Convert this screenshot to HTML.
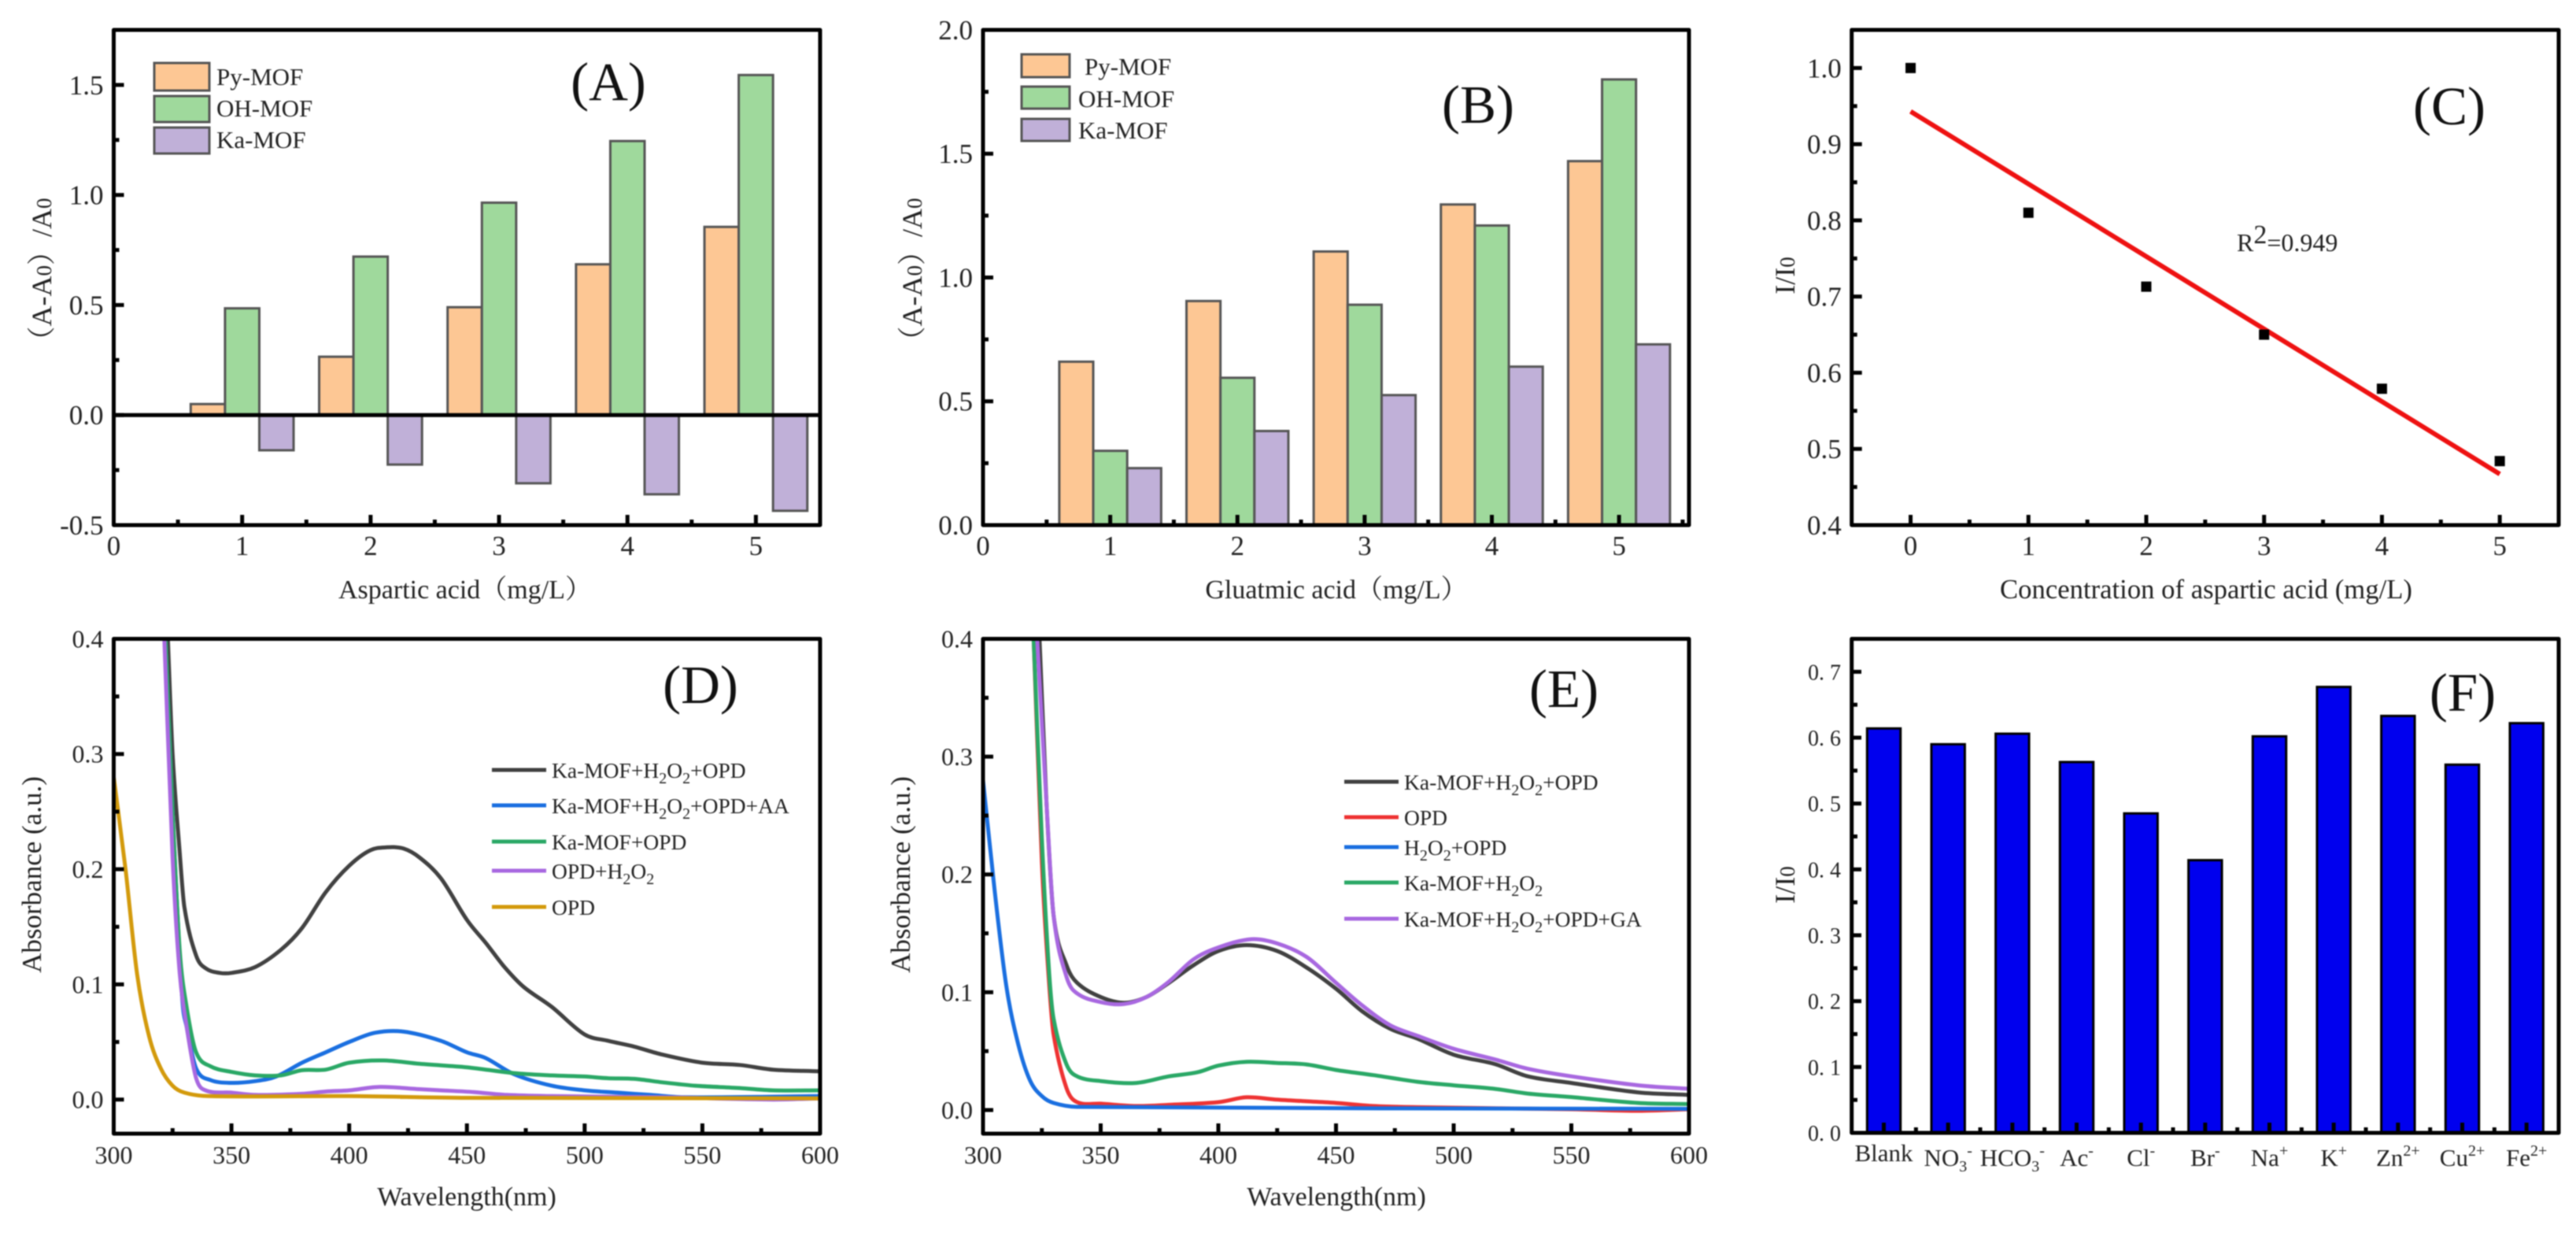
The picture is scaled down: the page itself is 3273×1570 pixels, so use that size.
<!DOCTYPE html>
<html lang="en">
<head>
<meta charset="utf-8">
<title>MOF absorbance and selectivity panels</title>
<style>
html,body{margin:0;padding:0;background:#fff;}
svg{display:block;filter:blur(0.7px);}
text{font-family:"Liberation Serif","Noto Serif CJK SC",serif;fill:#222;}
.frame{fill:none;stroke:#000;stroke-width:5;stroke-linejoin:round;}
.title{font-size:34px;}
.panel{font-size:69px;fill:#111;text-anchor:middle;}
.leg{font-size:31px;}
.leg2{font-size:27.5px;}
.sw{stroke:#555;stroke-width:3;}
.mid{text-anchor:middle;}
</style>
</head>
<body>
<svg id="fig" xmlns="http://www.w3.org/2000/svg" width="3273" height="1570" viewBox="0 0 3273 1570">
<rect x="0" y="0" width="3273" height="1570" fill="#fff"/>

<g id="a">
  <g id="a-marks"></g>
  <rect class="frame" x="144.5" y="38" width="897.5" height="629"/>
  <g id="a-axes"></g>
  <rect class="sw" x="196" y="80" width="70" height="35" fill="#fdc794"/>
  <rect class="sw" x="196" y="122" width="70" height="33" fill="#9fd99c"/>
  <rect class="sw" x="196" y="162" width="70" height="33" fill="#c0b0d8"/>
  <text class="leg" x="275" y="108">Py-MOF</text>
  <text class="leg" x="275" y="148">OH-MOF</text>
  <text class="leg" x="275" y="188">Ka-MOF</text>
  <text class="panel" x="773" y="127">(A)</text>
  <text class="title mid" x="591" y="760">Aspartic acid（mg/L）</text>
  <text class="mid" font-size="36" transform="translate(65,351) rotate(-90)">（A-A<tspan font-size="27">0</tspan>）/A<tspan font-size="27">0</tspan></text>
</g>

<g id="b">
  <g id="b-marks"></g>
  <rect class="frame" x="1249" y="38" width="897" height="629"/>
  <g id="b-axes"></g>
  <rect class="sw" x="1298" y="69" width="61" height="29" fill="#fdc794"/>
  <rect class="sw" x="1298" y="110" width="61" height="28" fill="#9fd99c"/>
  <rect class="sw" x="1298" y="151" width="61" height="28" fill="#c0b0d8"/>
  <text class="leg" x="1378" y="95">Py-MOF</text>
  <text class="leg" x="1370" y="136">OH-MOF</text>
  <text class="leg" x="1370" y="176">Ka-MOF</text>
  <text class="panel" x="1878" y="156">(B)</text>
  <text class="title mid" x="1698" y="760">Gluatmic acid（mg/L）</text>
  <text class="mid" font-size="36" transform="translate(1171,351) rotate(-90)">（A-A<tspan font-size="27">0</tspan>）/A<tspan font-size="27">0</tspan></text>
</g>

<g id="c">
  <g id="c-marks"></g>
  <rect class="frame" x="2352.7" y="38" width="898.3" height="629"/>
  <g id="c-axes"></g>
  <text class="panel" x="3112" y="158">(C)</text>
  <text x="2842" y="319" font-size="32">R<tspan dy="-10" font-size="34">2</tspan><tspan dy="10">=0.949</tspan></text>
  <text class="mid" font-size="34.7" x="2803" y="760">Concentration of aspartic acid (mg/L)</text>
  <text class="mid" font-size="36" transform="translate(2280,350) rotate(-90)">I/I<tspan font-size="27">0</tspan></text>
</g>

<g id="d">
  <g id="d-marks"></g>
  <rect class="frame" x="144.5" y="811.5" width="897.5" height="628.5"/>
  <g id="d-axes"></g>
  <line x1="625" x2="694" y1="978" y2="978" stroke="#414141" stroke-width="5"/>
  <line x1="625" x2="694" y1="1023" y2="1023" stroke="#1a6fe0" stroke-width="5"/>
  <line x1="625" x2="694" y1="1069" y2="1069" stroke="#2aa866" stroke-width="5"/>
  <line x1="625" x2="694" y1="1106" y2="1106" stroke="#a868e0" stroke-width="5"/>
  <line x1="625" x2="694" y1="1152" y2="1152" stroke="#d39a0c" stroke-width="5"/>
  <text class="leg2" x="701" y="988">Ka-MOF+H<tspan dy="7" font-size="20">2</tspan><tspan dy="-7">O</tspan><tspan dy="7" font-size="20">2</tspan><tspan dy="-7">+OPD</tspan></text>
  <text class="leg2" x="701" y="1033">Ka-MOF+H<tspan dy="7" font-size="20">2</tspan><tspan dy="-7">O</tspan><tspan dy="7" font-size="20">2</tspan><tspan dy="-7">+OPD+AA</tspan></text>
  <text class="leg2" x="701" y="1079">Ka-MOF+OPD</text>
  <text class="leg2" x="701" y="1116">OPD+H<tspan dy="7" font-size="20">2</tspan><tspan dy="-7">O</tspan><tspan dy="7" font-size="20">2</tspan></text>
  <text class="leg2" x="701" y="1162">OPD</text>
  <text class="panel" x="890" y="893">(D)</text>
  <text class="mid" font-size="34" x="593" y="1531">Wavelength(nm)</text>
  <text class="mid" font-size="35" transform="translate(52,1111) rotate(-90)">Absorbance (a.u.)</text>
</g>

<g id="e">
  <g id="e-marks"></g>
  <rect class="frame" x="1249" y="811.5" width="897" height="628.5"/>
  <g id="e-axes"></g>
  <line x1="1708" x2="1777" y1="993" y2="993" stroke="#414141" stroke-width="5"/>
  <line x1="1708" x2="1777" y1="1038" y2="1038" stroke="#ee3333" stroke-width="5"/>
  <line x1="1708" x2="1777" y1="1076" y2="1076" stroke="#1a6fe0" stroke-width="5"/>
  <line x1="1708" x2="1777" y1="1121" y2="1121" stroke="#2aa866" stroke-width="5"/>
  <line x1="1708" x2="1777" y1="1167" y2="1167" stroke="#a868e0" stroke-width="5"/>
  <text class="leg2" x="1784" y="1003">Ka-MOF+H<tspan dy="7" font-size="20">2</tspan><tspan dy="-7">O</tspan><tspan dy="7" font-size="20">2</tspan><tspan dy="-7">+OPD</tspan></text>
  <text class="leg2" x="1784" y="1048">OPD</text>
  <text class="leg2" x="1784" y="1086">H<tspan dy="7" font-size="20">2</tspan><tspan dy="-7">O</tspan><tspan dy="7" font-size="20">2</tspan><tspan dy="-7">+OPD</tspan></text>
  <text class="leg2" x="1784" y="1131">Ka-MOF+H<tspan dy="7" font-size="20">2</tspan><tspan dy="-7">O</tspan><tspan dy="7" font-size="20">2</tspan></text>
  <text class="leg2" x="1784" y="1177">Ka-MOF+H<tspan dy="7" font-size="20">2</tspan><tspan dy="-7">O</tspan><tspan dy="7" font-size="20">2</tspan><tspan dy="-7">+OPD+GA</tspan></text>
  <text class="panel" x="1987" y="898">(E)</text>
  <text class="mid" font-size="34" x="1698" y="1531">Wavelength(nm)</text>
  <text class="mid" font-size="35" transform="translate(1156,1111) rotate(-90)">Absorbance (a.u.)</text>
</g>

<g id="f">
  <g id="f-marks"></g>
  <rect class="frame" x="2352.7" y="811.5" width="898.3" height="627.5"/>
  <g id="f-axes"></g>
  <text class="panel" x="3129" y="903">(F)</text>
  <text class="mid" font-size="36" transform="translate(2280,1124) rotate(-90)">I/I<tspan font-size="27">0</tspan></text>
</g>
</svg>

<script>
// ---- Panel A data ----
const aConcentrations = [1, 2, 3, 4, 5];
const aPyMof = [0.05, 0.265, 0.49, 0.685, 0.855];
const aOhMof = [0.485, 0.72, 0.965, 1.245, 1.545];
const aKaMof = [-0.16, -0.225, -0.31, -0.36, -0.435];
const aXTicks = [0, 1, 2, 3, 4, 5];
const aYTicks = ['-0.5', '0.0', '0.5', '1.0', '1.5'];

// ---- Panel B data ----
const bConcentrations = [1, 2, 3, 4, 5];
const bPyMof = [0.66, 0.905, 1.105, 1.295, 1.47];
const bOhMof = [0.30, 0.595, 0.89, 1.21, 1.80];
const bKaMof = [0.23, 0.38, 0.525, 0.64, 0.73];
const bXTicks = [0, 1, 2, 3, 4, 5];
const bYTicks = ['0.0', '0.5', '1.0', '1.5', '2.0'];

// ---- Panel C data ----
const cConcentrations = [0, 1, 2, 3, 4, 5];
const cRatios = [1.0, 0.81, 0.713, 0.65, 0.579, 0.484];
const cFitX = [0, 5];
const cFitY = [0.943, 0.467];
const cXTicks = [0, 1, 2, 3, 4, 5];
const cYTicks = ['0.4', '0.5', '0.6', '0.7', '0.8', '0.9', '1.0'];

// ---- Panel D data ----
const dBlackX = [323,325,328,330,335,339,345,350,360,371,380,390,400,409,416,423,430,439,450,458,466,474,486,500,510,521,533,550,566,580,600];
const dBlackY = [.4,.3,.215,.167,.125,.114,.11,.11,.115,.13,.149,.18,.203,.2165,.219,.218,.21,.192,.156,.136,.115,.098,.0805,.0565,.051,.046,.039,.032,.03,.026,.0245];
const dBlueX = [322,325,329,331,335,341,350,360,369,380,390,400,411,423,439,450,458,470,486,500,514,528,542,600];
const dBlueY = [.4,.25,.09,.063,.027,.017,.0145,.016,.02,.032,.041,.05,.058,.059,.051,.041,.036,.022,.012,.008,.006,.004,.002,.003];
const dGreenX = [322,325,328,331,335,341,350,360,371,380,390,400,414.5,430,450,470,486,500,510,521,533,547,566,580,600];
const dGreenY = [.4,.25,.13,.08,.041,.029,.024,.021,.021,.0255,.026,.032,.034,.031,.028,.023,.021,.02,.0185,.018,.015,.012,.01,.008,.008];
const dPurpleX = [321.5,325,328,331,335,339,350,360,380,390,400,413,430,439,453,467,486,533,580,600];
const dPurpleY = [.4,.21,.11,.063,.0186,.008,.006,.004,.005,.007,.008,.011,.009,.008,.0065,.004,.003,.002,0,.001];
const dGoldX = [300,305,310,315,320,325,330,340,400,450,600];
const dGoldY = [.28,.2,.108,.055,.027,.012,.006,.003,.003,.0015,.001];
const wavelengthTicks = [300, 350, 400, 450, 500, 550, 600];
const absorbanceTicks = ['0.0', '0.1', '0.2', '0.3', '0.4'];

// ---- Panel E data ----
const eBlackX = [324,327,330,335.5,340,350,360,369.5,379,389.5,400,412,425,437.5,450,461,473,484.6,500,517.5,531.5,550,578.5,600];
const eBlackY = [.4,.26,.165,.123,.108,.096,.091,.096,.108,.123,.135,.14,.135,.121,.103,.084,.069,.0606,.047,.039,.0286,.023,.015,.0128];
const eRedX = [321.5,325,328,330,335.5,340,350,365,379,400,412,425,437.5,450,466,484.6,550,578.5,600];
const eRedY = [.4,.21,.11,.064,.0185,.0067,.0054,.0034,.0044,.0067,.0108,.0088,.0074,.006,.0034,.0024,.0007,-.0007,.0007];
const eBlueX = [300,305,310,315,320,325,330,340,600];
const eBlueY = [.28,.185,.104,.0556,.025,.0118,.006,.0027,.001];
const eGreenX = [321.5,325,328,330,335.5,340,350,365,379,391,400,412,425,437.5,450,466,484.6,500,517.5,531.5,550,578.5,600];
const eGreenY = [.4,.23,.12,.0774,.0387,.0286,.0246,.023,.0286,.032,.0377,.041,.04,.0387,.034,.0296,.024,.021,.018,.014,.011,.006,.005];
const ePurpleX = [323,327,330,335.5,340,350,360,369.5,379,389.5,400,414,425,437.5,450,461,473,484.6,500,517.5,531.5,550,578.5,600];
const ePurpleY = [.4,.26,.165,.113,.099,.0916,.09,.096,.109,.128,.138,.145,.1414,.13,.108,.089,.072,.063,.052,.043,.035,.0286,.021,.018];

// ---- Panel F data ----
const fIonBase = ['Blank', 'NO', 'HCO', 'Ac', 'Cl', 'Br', 'Na', 'K', 'Zn', 'Cu', 'Fe'];
const fIonSub = ['', '3', '3', '', '', '', '', '', '', '', ''];
const fIonSup = ['', '-', '-', '-', '-', '-', '+', '+', '2+', '2+', '2+'];
const fRatios = [0.614, 0.59, 0.606, 0.563, 0.485, 0.414, 0.602, 0.677, 0.633, 0.559, 0.622];
const fYTicks = ['0. 0', '0. 1', '0. 2', '0. 3', '0. 4', '0. 5', '0. 6', '0. 7'];

const NS = 'http://www.w3.org/2000/svg';
function scale(d0, d1, r0, r1) {
  return function (v) { return r0 + (v - d0) * (r1 - r0) / (d1 - d0); };
}
function mk(parent, tag, attrs, text) {
  const el = document.createElementNS(NS, tag);
  for (const k in attrs) el.setAttribute(k, attrs[k]);
  if (text !== undefined) el.textContent = text;
  parent.appendChild(el);
  return el;
}
function tickLine(g, x1, y1, x2, y2, major) {
  const t = mk(g, 'line', { x1: x1, y1: y1, x2: x2, y2: y2, stroke: '#000', 'stroke-width': 5 });
  
  
}
function tickLabel(g, x, y, anchor, size, text, kind) {
  const t = mk(g, 'text', { x: x, y: y, 'text-anchor': anchor, 'font-size': size }, text);
  
  
  return t;
}
function axes(id, sx, sy, left, bottom, o) {
  const g = document.getElementById(id);
  o.xVals.forEach(function (v) {
    const x = sx(v);
    tickLine(g, x, bottom, x, bottom - 13, true);
    tickLabel(g, x, o.xBase, 'middle', o.size, String(v), 'x-tick-label');
    const m = v + o.xStep / 2;
    if (sx(m) < o.right - 4) tickLine(g, sx(m), bottom, sx(m), bottom - 7, false);
  });
  o.yLabels.forEach(function (s) {
    const v = parseFloat(s);
    const y = sy(v);
    tickLine(g, left, y, left + 13, y, true);
    tickLabel(g, left - 13, y + o.size * 0.34, 'end', o.size, s, 'y-tick-label');
    const m = v + o.yStep / 2;
    if (sy(m) > o.top + 4) tickLine(g, left, sy(m), left + 7, sy(m), false);
  });
}
const pyFill = '#fdc794';
const ohFill = '#9fd99c';
const kaFill = '#c0b0d8';
function barRect(g, sx, sy, x, w, v, fill, stroke, sw) {
  const y0 = sy(0), y1 = sy(v);
  const r = mk(g, 'rect', { x: sx(x), y: Math.min(y0, y1), width: sx(x + w) - sx(x), height: Math.abs(y1 - y0), fill: fill, stroke: stroke, 'stroke-width': sw });
  
  
}
function curve(g, sx, sy, xs, ys, color) {
  const px = xs.map(sx), py = ys.map(sy);
  let d = 'M' + px[0].toFixed(1) + ' ' + py[0].toFixed(1);
  for (let i = 0; i < px.length - 1; i++) {
    const a = Math.max(i - 1, 0), b = Math.min(i + 2, px.length - 1);
    const dx = px[i + 1] - px[i];
    // tangents follow neighbouring chords, limited so the steep knee does not overshoot
    const m0 = (py[i + 1] - py[a]) / (px[i + 1] - px[a]);
    const m1 = (py[b] - py[i]) / (px[b] - px[i]);
    const lo = Math.min(py[i], py[i + 1]), hi = Math.max(py[i], py[i + 1]);
    const c1y = Math.min(hi + 3, Math.max(lo - 3, py[i] + m0 * dx / 3));
    const c2y = Math.min(hi + 3, Math.max(lo - 3, py[i + 1] - m1 * dx / 3));
    d += 'C' + (px[i] + dx / 3).toFixed(1) + ' ' + c1y.toFixed(1) + ' ' + (px[i + 1] - dx / 3).toFixed(1) + ' ' + c2y.toFixed(1) + ' ' + px[i + 1].toFixed(1) + ' ' + py[i + 1].toFixed(1);
  }
  const p = mk(g, 'path', { d: d, fill: 'none', stroke: color, 'stroke-width': 5, 'stroke-linejoin': 'round', 'stroke-linecap': 'round' });
  
  
}

// Panel A
(function () {
  const sx = scale(0, 5.5, 144.5, 1042), sy = scale(-0.5, 1.75, 667, 38);
  const g = document.getElementById('a-marks');
  const w = 0.267;
  aConcentrations.forEach(function (c, i) {
    barRect(g, sx, sy, c - 1.5 * w, w, aPyMof[i], pyFill, '#555', 3);
    barRect(g, sx, sy, c - 0.5 * w, w, aOhMof[i], ohFill, '#555', 3);
    barRect(g, sx, sy, c + 0.5 * w, w, aKaMof[i], kaFill, '#555', 3);
  });
  const z = mk(g, 'line', { x1: sx(0), x2: sx(5.5), y1: sy(0), y2: sy(0), stroke: '#000', 'stroke-width': 5 });
  
  
  axes('a-axes', sx, sy, 144.5, 667, { xVals: aXTicks, xStep: 1, right: 1042, top: 38, xBase: 705, size: 35, yLabels: aYTicks, yStep: 0.5 });
})();

// Panel B
(function () {
  const sx = scale(0, 5.55, 1249, 2146), sy = scale(0, 2, 667, 38);
  const g = document.getElementById('b-marks');
  const w = 0.267;
  bConcentrations.forEach(function (c, i) {
    barRect(g, sx, sy, c - 1.5 * w, w, bPyMof[i], pyFill, '#555', 3);
    barRect(g, sx, sy, c - 0.5 * w, w, bOhMof[i], ohFill, '#555', 3);
    barRect(g, sx, sy, c + 0.5 * w, w, bKaMof[i], kaFill, '#555', 3);
  });
  axes('b-axes', sx, sy, 1249, 667, { xVals: bXTicks, xStep: 1, right: 2146, top: 38, xBase: 705, size: 35, yLabels: bYTicks, yStep: 0.5 });
})();

// Panel C
(function () {
  const sx = scale(-0.5, 5.5, 2352.7, 3251), sy = scale(0.4, 1.05, 667, 38);
  const g = document.getElementById('c-marks');
  const f = mk(g, 'line', { x1: sx(cFitX[0]), y1: sy(cFitY[0]), x2: sx(cFitX[1]), y2: sy(cFitY[1]), stroke: '#ee1111', 'stroke-width': 6 });
  
  
  cConcentrations.forEach(function (c, i) {
    const p = mk(g, 'rect', { x: sx(c) - 6.5, y: sy(cRatios[i]) - 6.5, width: 13, height: 13, fill: '#000' });
    
    
  });
  axes('c-axes', sx, sy, 2352.7, 667, { xVals: cXTicks, xStep: 1, right: 3251, top: 38, xBase: 705, size: 35, yLabels: cYTicks, yStep: 0.1 });
})();

// Panel D
(function () {
  const sx = scale(300, 600, 144.5, 1042), sy = scale(0, 0.4, 1396.7, 811.5);
  const g = document.getElementById('d-marks');
  curve(g, sx, sy, dBlackX, dBlackY, '#414141');
  curve(g, sx, sy, dBlueX, dBlueY, '#1a6fe0');
  curve(g, sx, sy, dGreenX, dGreenY, '#2aa866');
  curve(g, sx, sy, dPurpleX, dPurpleY, '#a868e0');
  curve(g, sx, sy, dGoldX, dGoldY, '#d39a0c');
  axes('d-axes', sx, sy, 144.5, 1440, { xVals: wavelengthTicks, xStep: 50, right: 1042, top: 811.5, xBase: 1478, size: 32, yLabels: absorbanceTicks, yStep: 0.1 });
})();

// Panel E
(function () {
  const sx = scale(300, 600, 1249, 2146), sy = scale(0, 0.4, 1410, 811.5);
  const g = document.getElementById('e-marks');
  curve(g, sx, sy, eBlackX, eBlackY, '#414141');
  curve(g, sx, sy, eRedX, eRedY, '#ee3333');
  curve(g, sx, sy, eBlueX, eBlueY, '#1a6fe0');
  curve(g, sx, sy, eGreenX, eGreenY, '#2aa866');
  curve(g, sx, sy, ePurpleX, ePurpleY, '#a868e0');
  axes('e-axes', sx, sy, 1249, 1440, { xVals: wavelengthTicks, xStep: 50, right: 2146, top: 811.5, xBase: 1478, size: 32, yLabels: absorbanceTicks, yStep: 0.1 });
})();

// Panel F
(function () {
  const sx = scale(0.5, 11.5, 2352.7, 3251), sy = scale(0, 0.75, 1439, 811.5);
  const g = document.getElementById('f-marks');
  const a = document.getElementById('f-axes');
  fRatios.forEach(function (v, i) {
    barRect(g, sx, sy, i + 1 - 0.26, 0.52, v, '#0000ee', '#000', 3);
    tickLine(a, sx(i + 1), 1439, sx(i + 1), 1426, true);
    if (i < 10) tickLine(a, sx(i + 1.5), 1439, sx(i + 1.5), 1432, false);
    const t = tickLabel(a, sx(i + 1), i === 0 ? 1475 : 1481, 'middle', 31, fIonBase[i], 'category-label');
    if (fIonSub[i]) {
      const s = mk(t, 'tspan', { dy: 7, 'font-size': 20 }, fIonSub[i]);
      
      
    }
    if (fIonSup[i]) {
      const u = mk(t, 'tspan', { dy: fIonSub[i] ? -20 : -13, 'font-size': 20 }, fIonSup[i]);
      
      
    }
  });
  fYTicks.forEach(function (s) {
    const v = parseFloat(s.replace(' ', ''));
    tickLine(a, 2352.7, sy(v), 2365, sy(v), true);
    tickLabel(a, 2339, sy(v) + 10, 'end', 28, s, 'y-tick-label');
    if (v < 0.7) tickLine(a, 2352.7, sy(v + 0.05), 2360, sy(v + 0.05), false);
  });
})();
</script>
</body>
</html>
